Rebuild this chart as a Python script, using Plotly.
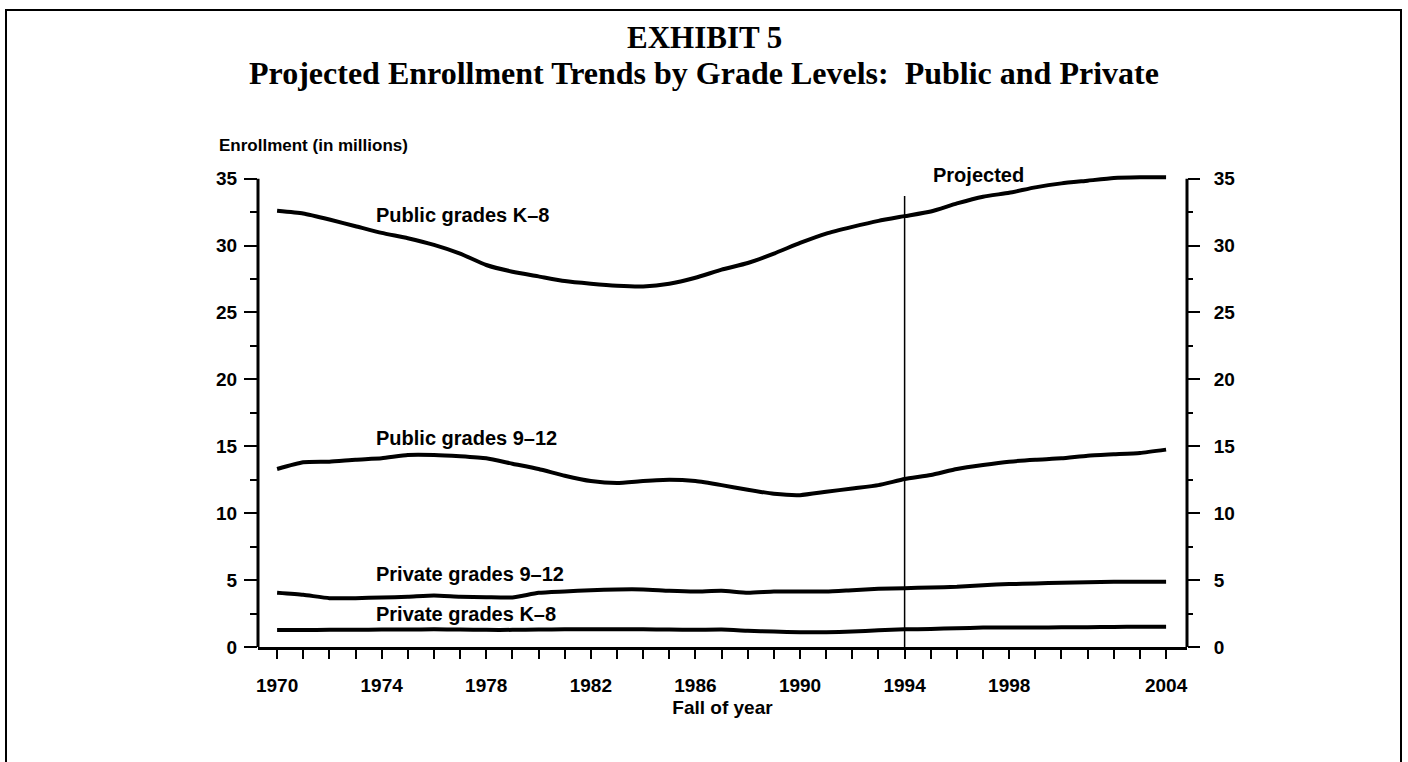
import plotly.graph_objects as go

# Fall of year
years = list(range(1970, 2005))

# Enrollment in millions
public_k8 = [32.6, 32.4, 31.95, 31.45, 30.95, 30.55, 30.05, 29.4, 28.55, 28.05,
             27.7, 27.35, 27.15, 27.0, 26.95, 27.15, 27.6, 28.2, 28.7, 29.4,
             30.2, 30.9, 31.4, 31.85, 32.2, 32.55, 33.15, 33.65, 33.95, 34.35,
             34.65, 34.85, 35.05, 35.1, 35.1]
public_9_12 = [13.3, 13.8, 13.85, 14.0, 14.1, 14.35, 14.35, 14.25, 14.1, 13.7,
               13.3, 12.8, 12.4, 12.25, 12.4, 12.5, 12.4, 12.1, 11.75, 11.45,
               11.35, 11.6, 11.85, 12.1, 12.55, 12.85, 13.3, 13.6, 13.85, 14.0,
               14.1, 14.3, 14.4, 14.5, 14.75]
private_9_12 = [4.05, 3.9, 3.65, 3.65, 3.7, 3.75, 3.85, 3.75, 3.72, 3.7,
                4.05, 4.15, 4.25, 4.3, 4.3, 4.2, 4.15, 4.2, 4.05, 4.15,
                4.15, 4.15, 4.25, 4.35, 4.4, 4.45, 4.5, 4.62, 4.7, 4.75,
                4.8, 4.83, 4.87, 4.88, 4.88]
private_k8 = [1.27, 1.27, 1.28, 1.28, 1.3, 1.3, 1.32, 1.3, 1.28, 1.28,
              1.3, 1.32, 1.32, 1.32, 1.32, 1.3, 1.28, 1.3, 1.22, 1.15,
              1.1, 1.1, 1.15, 1.25, 1.32, 1.35, 1.4, 1.45, 1.45, 1.45,
              1.47, 1.48, 1.5, 1.52, 1.52]

year_ticks = [1970, 1974, 1978, 1982, 1986, 1990, 1994, 1998, 2004]
y_ticks = [0, 5, 10, 15, 20, 25, 30, 35]
projection_start = 1994

# series labels: (text, year, value)
series_labels = [
    ("Public grades K\u20138", 1973.72, 32.3),
    ("Public grades 9\u201312", 1973.72, 15.6),
    ("Private grades 9\u201312", 1973.72, 5.45),
    ("Private grades K\u20138", 1973.72, 2.5),
]

W, H = 1408, 762
L, R, T, B = 258, 221, 172, 115
SANS = "Liberation Sans, Arial, sans-serif"
NARROW = "Liberation Sans Narrow, Arial Narrow, Liberation Sans, sans-serif"
SERIF = "Liberation Serif, Times New Roman, serif"


def px_x(px):
    return (px - L) / (W - L - R)


def px_y(py):
    return (H - B - py) / (H - T - B)


fig = go.Figure()
for vals in (public_k8, public_9_12, private_9_12, private_k8):
    fig.add_trace(go.Scatter(x=years, y=vals, mode="lines",
                             line=dict(color="black", width=4, shape="spline", smoothing=0.5),
                             showlegend=False, hoverinfo="skip"))
# invisible trace so the right axis gets drawn
fig.add_trace(go.Scatter(x=[years[0]], y=[0], yaxis="y2", mode="markers",
                         marker=dict(opacity=0), showlegend=False, hoverinfo="skip"))

tickfont = dict(family=SANS, size=19, color="black", weight="bold")

fig.update_layout(
    width=W, height=H,
    margin=dict(l=L, r=R, t=T, b=B),
    plot_bgcolor="white", paper_bgcolor="white",
    xaxis=dict(range=[1969.27, 2004.8], tickvals=year_ticks, ticks="outside",
               ticklen=9, tickwidth=1.5, tickcolor="black",
               minor=dict(tick0=1970, dtick=1, ticks="outside", ticklen=9,
                          tickwidth=1.5, tickcolor="black"),
               showline=True, linewidth=3, linecolor="black", showgrid=False,
               zeroline=False, tickfont=tickfont, ticklabelstandoff=10,
               title=dict(text="Fall of year", font=tickfont, standoff=6)),
    yaxis=dict(range=[0, 35.5], tickvals=y_ticks, ticks="outside", ticklen=13,
               tickwidth=2, tickcolor="black",
               minor=dict(dtick=2.5, ticks="outside", ticklen=7, tickwidth=1.5,
                          tickcolor="black"),
               showline=False, showgrid=False, zeroline=False, tickfont=tickfont,
               ticklabelstandoff=3),
    yaxis2=dict(range=[0, 35.5], overlaying="y", side="right", tickvals=y_ticks,
                ticks="outside", ticklen=12, tickwidth=2, tickcolor="black",
                minor=dict(dtick=2.5, ticks="outside", ticklen=5, tickwidth=1.5,
                           tickcolor="black"),
                showline=False, showgrid=False, zeroline=False, tickfont=tickfont,
                ticklabelstandoff=10),
)

# axis spines, stopping at 35
fig.add_shape(type="line", xref="x domain", yref="y", x0=0, x1=0, y0=0, y1=35,
              line=dict(color="black", width=3))
fig.add_shape(type="line", xref="x domain", yref="y", x0=1, x1=1, y0=0, y1=35,
              line=dict(color="black", width=3))
# start of projections
fig.add_shape(type="line", xref="x", yref="y", x0=projection_start, x1=projection_start,
              y0=0, y1=33.7, line=dict(color="black", width=1.5))
# outer frame
fig.add_shape(type="rect", xref="paper", yref="paper",
              x0=px_x(6), x1=px_x(1401), y0=px_y(790), y1=px_y(10),
              line=dict(color="black", width=2), layer="below")

for text, x, y in series_labels:
    fig.add_annotation(x=x, y=y, text=text, showarrow=False, xanchor="left",
                       yanchor="middle",
                       font=dict(family=SANS, size=20, color="black", weight="bold"))
fig.add_annotation(x=1995.0, y=35.3, text="Projected", showarrow=False, xanchor="left",
                   yanchor="middle",
                   font=dict(family=SANS, size=20, color="black", weight="bold"))

fig.add_annotation(xref="paper", yref="paper", x=px_x(217), y=px_y(146),
                   text="Enrollment (in millions)", showarrow=False,
                   xanchor="left", yanchor="middle",
                   font=dict(family=NARROW, size=17, color="black", weight="bold"))
fig.add_annotation(xref="paper", yref="paper", x=px_x(704), y=px_y(37),
                   text="EXHIBIT 5", showarrow=False, xanchor="center", yanchor="middle",
                   font=dict(family=SERIF, size=31, color="black", weight="bold"))
fig.add_annotation(xref="paper", yref="paper", x=px_x(704), y=px_y(73),
                   text="Projected Enrollment Trends by Grade Levels:  Public and Private",
                   showarrow=False, xanchor="center", yanchor="middle",
                   font=dict(family=SERIF, size=32, color="black", weight="bold"))

# drop the default body margin so the figure sits at the page corner
fig.write_html("out.html", config={"displayModeBar": False},
               post_script="document.body.style.margin = '0px';")
